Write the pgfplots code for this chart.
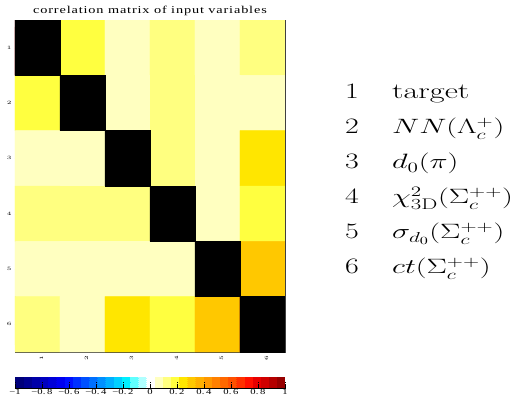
\documentclass[border=0pt]{standalone}
\usepackage{pgfplots}
\pgfplotsset{compat=1.18}
\usepackage{fontspec}
\newfontfamily\timesfont{Liberation Serif}
\newfontfamily\titlefont[LetterSpace=6]{Liberation Serif}

% stepped diverging palette: 33 equal bins on [-1,1]
\pgfplotsset{
  colormap={corr}{
    rgb255=(0,0,122) rgb255=(0,0,144) rgb255=(0,0,168) rgb255=(0,0,192)
    rgb255=(0,0,216) rgb255=(0,0,240) rgb255=(0,16,255) rgb255=(0,48,255)
    rgb255=(0,80,255) rgb255=(0,112,255) rgb255=(0,144,255) rgb255=(0,176,255)
    rgb255=(0,208,255) rgb255=(0,240,255) rgb255=(96,255,255) rgb255=(176,255,255)
    rgb255=(255,255,255)
    rgb255=(255,255,192) rgb255=(255,255,128) rgb255=(255,255,64) rgb255=(255,230,0)
    rgb255=(255,200,0) rgb255=(255,176,0) rgb255=(255,152,0) rgb255=(255,128,0)
    rgb255=(255,104,0) rgb255=(255,80,0) rgb255=(255,48,0) rgb255=(255,16,0)
    rgb255=(232,0,0) rgb255=(208,0,0) rgb255=(180,0,0) rgb255=(150,0,0)
  },
  diag/.style={fill=black, draw=black, line width=0.6pt, mark=none},
}

\newcommand{\wide}[1]{\scalebox{1.36}[1]{#1}}
\newcommand{\wider}[1]{\scalebox{1.47}[1]{#1}}

\pgfplotstableread{
x y c
1 1 1
2 1 0.18
3 1 0.06
4 1 0.12
5 1 0.06
6 1 0.12
1 2 0.18
2 2 1
3 2 0.06
4 2 0.12
5 2 0.06
6 2 0.06
1 3 0.06
2 3 0.06
3 3 1
4 3 0.12
5 3 0.06
6 3 0.24
1 4 0.12
2 4 0.12
3 4 0.12
4 4 1
5 4 0.06
6 4 0.18
1 5 0.06
2 5 0.06
3 5 0.06
4 5 0.06
5 5 1
6 5 0.30
1 6 0.12
2 6 0.06
3 6 0.24
4 6 0.18
5 6 0.30
6 6 1
}\corrtable

\begin{document}
\begin{tikzpicture}
\useasboundingbox (0,0) rectangle (523pt,-401pt);
\begin{axis}[
  at={(15pt,-20pt)}, anchor=north west,
  scale only axis, width=270pt, height=332pt,
  xmin=0.5, xmax=6.5, ymin=0.5, ymax=6.5, y dir=reverse,
  xtick={1,...,6}, ytick={1,...,6},
  tick pos=left, tick align=inside, major tick length=2pt,
  tick style={black!70},
  axis line style={black!75},
  xticklabel style={rotate=90, font=\timesfont\fontsize{5}{6}\selectfont, yshift=-4pt},
  yticklabel style={font=\timesfont\fontsize{5}{6}\selectfont},
  xticklabel={\wide{\pgfmathprintnumber{\tick}}},
  yticklabel={\wide{\pgfmathprintnumber{\tick}}},
  title={\wide{correlation matrix of input variables}},
  title style={font=\titlefont\fontsize{10.5}{12}\selectfont, at={(0.5,1)}, anchor=base, yshift=1pt},
  colormap name=corr, colormap access=piecewise constant,
  point meta min=-1, point meta max=1,
  colorbar horizontal,
  colorbar style={
    at={(parent axis.south west)}, anchor=north west, yshift=-16pt,
    scale only axis, width=270pt, height=12pt,
    axis y line=none, axis x line*=bottom,
    x axis line style={black},
    xtick={-1,-0.8,-0.6,-0.4,-0.2,0,0.2,0.4,0.6,0.8,1},
    xticklabels={\wide{−1},\wide{−0.\,8},\wide{−0.\,6},\wide{−0.\,4},\wide{−0.\,2},\wide{0},
      \wide{0.\,2},\wide{0.\,4},\wide{0.\,6},\wide{0.\,8},\wide{1}},
    xticklabel style={font=\timesfont\fontsize{7.8}{8}\selectfont, inner sep=1pt},
    xtick style={black, densely dotted, thin},
    major tick length=7pt,
  },
]
\addplot[matrix plot*, mesh/cols=6, point meta=explicit] table[x=x, y=y, meta=c] {\corrtable};
% self-correlation cells on the diagonal are shown in black
\addplot[diag] coordinates {(0.5,0.5) (1.5,0.5) (1.5,1.5) (0.5,1.5) (0.5,0.5)};
\addplot[diag] coordinates {(1.5,1.5) (2.5,1.5) (2.5,2.5) (1.5,2.5) (1.5,1.5)};
\addplot[diag] coordinates {(2.5,2.5) (3.5,2.5) (3.5,3.5) (2.5,3.5) (2.5,2.5)};
\addplot[diag] coordinates {(3.5,3.5) (4.5,3.5) (4.5,4.5) (3.5,4.5) (3.5,3.5)};
\addplot[diag] coordinates {(4.5,4.5) (5.5,4.5) (5.5,5.5) (4.5,5.5) (4.5,4.5)};
\addplot[diag] coordinates {(5.5,5.5) (6.5,5.5) (6.5,6.5) (5.5,6.5) (5.5,5.5)};
\end{axis}

% variable index legend
\begin{scope}[every node/.style={anchor=base west, inner sep=0pt, font=\fontsize{22}{26}\selectfont}]
\node at (345pt,-99pt) {\wide{1}};
\node at (392pt,-99pt) {\wider{target}};
\node at (345pt,-134pt) {\wide{2}};
\node at (392pt,-134pt) {\wider{$NN(\Lambda_c^+)$}};
\node at (345pt,-169pt) {\wide{3}};
\node at (392pt,-169pt) {\wider{$d_0(\pi)$}};
\node at (345pt,-204pt) {\wide{4}};
\node at (392pt,-204pt) {\wider{$\chi^2_{\mathrm{3D}}(\Sigma_c^{++})$}};
\node at (345pt,-239pt) {\wide{5}};
\node at (392pt,-239pt) {\wider{$\sigma_{d_0}(\Sigma_c^{++})$}};
\node at (345pt,-274pt) {\wide{6}};
\node at (392pt,-274pt) {\wider{$ct(\Sigma_c^{++})$}};
\end{scope}
\end{tikzpicture}
\end{document}
